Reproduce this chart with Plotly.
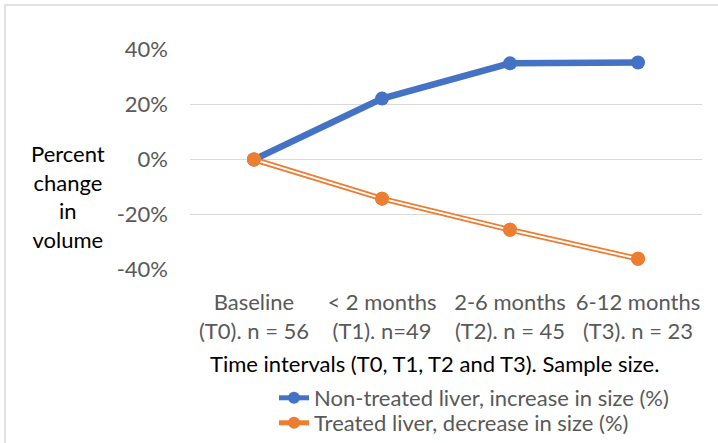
import plotly.graph_objects as go

categories = ["Baseline<br>(T0). n = 56", "< 2 months<br>(T1). n=49",
              "2-6 months<br>(T2). n = 45", "6-12 months<br>(T3). n = 23"]
non_treated = [0.0, 0.221, 0.349, 0.352]
treated = [0.0, -0.142, -0.255, -0.36]
y_ticks = [-0.4, -0.2, 0.0, 0.2, 0.4]
y_tick_labels = ["-40%", "-20%", "0%", "20%", "40%"]

BLUE = "#4472C4"
ORANGE = "#ED7D31"
FONT = "Lato"
FS = 22

fig = go.Figure()
fig.add_trace(go.Scatter(x=categories, y=non_treated, mode="lines+markers",
                         name="Non-treated liver, increase in size (%)",
                         line=dict(color=BLUE, width=6.5),
                         marker=dict(color=BLUE, size=14), legend="legend"))
fig.add_trace(go.Scatter(x=categories, y=treated, mode="lines+markers",
                         name="Treated liver, decrease in size (%)",
                         line=dict(color=ORANGE, width=5.5),
                         marker=dict(color=ORANGE, size=14), legend="legend2"))
fig.add_trace(go.Scatter(x=categories, y=treated, mode="lines", showlegend=False,
                         line=dict(color="white", width=2), hoverinfo="skip"))
fig.add_trace(go.Scatter(x=categories, y=treated, mode="markers", showlegend=False,
                         marker=dict(color=ORANGE, size=14), hoverinfo="skip"))

W, H = 718, 443
L, R, T, B = 190, 16, 49, 173
pw = W - L - R
ph = H - T - B

def px_x(p):
    return (p - L) / pw

def px_y(p):
    return (H - B - p) / ph

leg_common = dict(xref="container", yref="container", xanchor="left", yanchor="top",
                  bgcolor="rgba(0,0,0,0)", font=dict(size=FS, color="#595959"),
                  itemsizing="constant")

fig.update_layout(
    width=W, height=H,
    margin=dict(l=L, r=R, t=T, b=B, pad=0, autoexpand=False),
    paper_bgcolor="white", plot_bgcolor="white",
    font=dict(family=FONT, size=FS, color="#595959"),
    showlegend=True,
    legend=dict(x=274 / W, y=1 - 377 / H, **leg_common),
    legend2=dict(x=274 / W, y=1 - 402 / H, **leg_common),
    xaxis=dict(type="category", range=[-0.5, 3.5], showgrid=False, zeroline=False,
               showline=False, ticks="", ticklabelstandoff=17, automargin=False,
               tickfont=dict(size=FS, color="#595959")),
    yaxis=dict(range=[-0.401, 0.401], tickvals=y_ticks, ticktext=y_tick_labels,
               showgrid=True, gridcolor="#D9D9D9", gridwidth=1.3, zeroline=False,
               showline=False, ticks="", ticklabelstandoff=21, automargin=False,
               tickfont=dict(size=FS, color="#595959")),
    annotations=[
        dict(text="Percent<br>change<br>in<br>volume", xref="paper", yref="paper",
             x=px_x(68), y=px_y(196), xanchor="center", yanchor="middle",
             showarrow=False, font=dict(size=FS, color="black", family=FONT)),
        dict(text="Time intervals (T0, T1, T2 and T3). Sample size.", xref="paper",
             yref="paper", x=px_x(434), y=px_y(363), xanchor="center", yanchor="middle",
             showarrow=False, font=dict(size=FS, color="black", family=FONT)),
    ],
    shapes=[
        dict(type="rect", xref="paper", yref="paper",
             x0=px_x(5), x1=px_x(760), y0=px_y(500), y1=px_y(5),
             line=dict(color="#D9D9D9", width=1.5), fillcolor="rgba(0,0,0,0)",
             layer="below"),
    ],
)

fig.write_html("out.html")
